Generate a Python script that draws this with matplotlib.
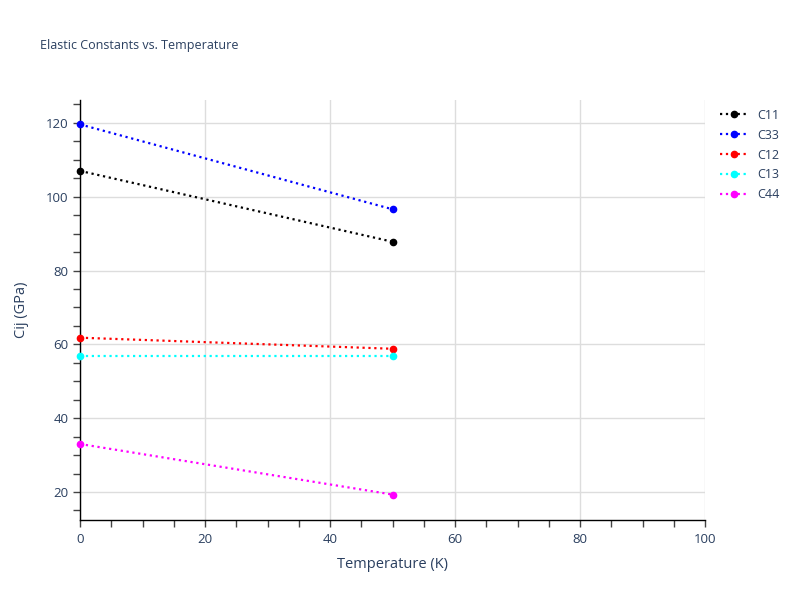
import matplotlib.pyplot as plt
from matplotlib.ticker import MultipleLocator

plt.rcParams.update({
    "font.family": ["Open Sans", "DejaVu Sans"],
    "font.size": 9,
    "text.color": "#2a3f5f",
    "axes.labelcolor": "#2a3f5f",
    "xtick.color": "#444444",
    "ytick.color": "#444444",
    "xtick.labelcolor": "#2a3f5f",
    "ytick.labelcolor": "#2a3f5f",
})

# data
temperature = [0, 50]
series_names = ["C11", "C33", "C12", "C13", "C44"]
c11 = [107.0, 87.8]
c33 = [119.6, 96.6]
c12 = [61.8, 58.8]
c13 = [56.8, 56.8]
c44 = [33.0, 19.3]
series_values = [c11, c33, c12, c13, c44]
series_colors = ["black", "blue", "red", "cyan", "magenta"]

fig = plt.figure(figsize=(8, 6), dpi=100)
ax = fig.add_axes([0.1, 0.1333, 0.78125, 0.70])

for name, vals, col in zip(series_names, series_values, series_colors):
    ax.plot(temperature, vals, linestyle=":", linewidth=1.6, color=col,
            marker="o", markersize=4.5, label=name, clip_on=False, zorder=3)

ax.set_xlim(0, 100)
ax.set_ylim(12.4, 126.2)
ax.xaxis.set_major_locator(MultipleLocator(20))
ax.xaxis.set_minor_locator(MultipleLocator(5))
ax.yaxis.set_major_locator(MultipleLocator(20))
ax.yaxis.set_minor_locator(MultipleLocator(5))
ax.tick_params(which="both", direction="out", length=5, width=1, labelsize=9.5)
ax.tick_params(axis="x", pad=4)
ax.grid(True, which="major", color="#dddddd", linewidth=1)
ax.set_axisbelow(True)

for side in ["top", "right"]:
    ax.spines[side].set_visible(False)
for side in ["left", "bottom"]:
    ax.spines[side].set_color("black")
    ax.spines[side].set_linewidth(1)

ax.set_xlabel("Temperature (K)", fontsize=10.5, labelpad=8)
ax.set_ylabel("Cij (GPa)", fontsize=10.5, labelpad=12)

fig.text(0.05, 1 - 46 / 600, "Elastic Constants vs. Temperature", fontsize=9,
         va="center", ha="left")

ax.legend(loc="upper left", bbox_to_anchor=(1.01, 1.0), frameon=False,
          fontsize=9, handlelength=2.2, labelspacing=0.55, borderaxespad=0.3)

fig.savefig("out.png", dpi=100)
